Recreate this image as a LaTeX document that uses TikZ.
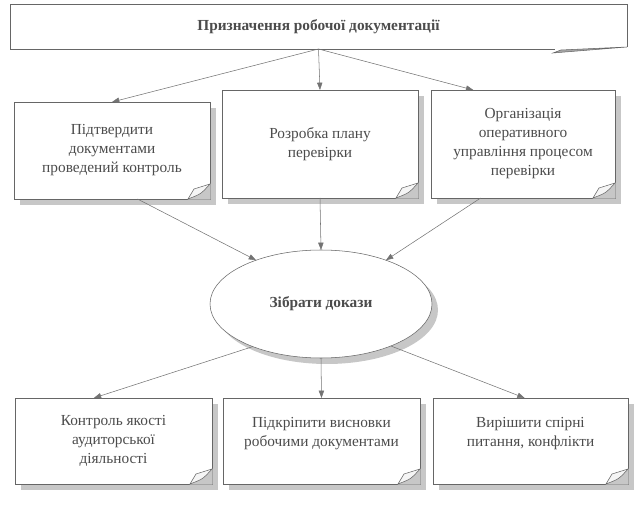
\documentclass[tikz,border=0pt]{standalone}
\usepackage{fontspec}
\setmainfont{Liberation Serif}
\usetikzlibrary{shapes,arrows.meta,positioning,calc,shadows}

\tikzset{
  plainbox/.style={draw=black!60, fill=white, inner sep=0pt, outer sep=0pt, align=center,
    text=black!70, font=\fontsize{11.5}{14.25}\selectfont},
  docbox/.style={plainbox, drop shadow={shadow xshift=4.5pt, shadow yshift=-4.5pt, fill=black!22, opacity=1}},
  arr/.style={draw=black!55, -{Triangle[length=5.5pt,width=4pt]}},
}

\begin{document}
\begin{tikzpicture}[x=0.75pt, y=-0.75pt]
\useasboundingbox (0,0) rectangle (643,513);

% top
\node[plainbox, minimum width=462.75pt, minimum height=33.75pt] (T) at (318.5,26.5)
  {\textbf{Призначення робочої документації}};

% middle row
\node[docbox, minimum width=147pt, minimum height=72.75pt] (L1) at (112,150.5)
  {Підтвердити\\документами\\проведений контроль};
\node[docbox, minimum width=147pt, minimum height=81pt] (M1) at (320,144)
  {Розробка плану\\перевірки};
\node[docbox, minimum width=138pt, minimum height=81pt] (R1) at (523,144)
  {Організація\\оперативного\\управління процесом\\перевірки};

% centre
\node[docbox, ellipse, minimum width=166.5pt, minimum height=81pt] (E) at (321,304)
  {\textbf{Зібрати докази}};

% bottom row
\node[docbox, minimum width=147.75pt, minimum height=64.5pt] (B1) at (113.5,441)
  {Контроль якості\\аудиторської\\діяльності};
\node[docbox, minimum width=147.75pt, minimum height=64.5pt] (B2) at (321.5,441)
  {Підкріпити висновки\\робочими документами\\\mbox{}};
\node[docbox, minimum width=146.25pt, minimum height=64.5pt] (B3) at (530.5,441)
  {Вирішити спірні\\питання, конфлікти\\\mbox{}};

% folded corners
\foreach \n in {L1,M1,R1,B1,B2,B3}{
  \begin{scope}[shift={(\n.south east)}]
    \fill[black!22] (-22.5,0.6) -- (0.6,0.6) -- (0.6,-15.5) -- cycle;
    \filldraw[fill=black!4, draw=black!60] (-22,0) -- (-16,-10) -- (0,-15) .. controls (-9,-5) .. cycle;
  \end{scope}
}
\begin{scope}[shift={(T.south east)}]
  \fill[white] (-72,-1.5) rectangle (1,1.5);
  \filldraw[fill=black!35, draw=black!60] (-74,4) -- (-66,1) -- (0,-2) -- (-62,3) -- cycle;
\end{scope}

% connectors
\draw[arr] (T.south) -- (L1.north);
\draw[arr] (T.south) -- (M1.north);
\draw[arr] (T.south) -- ($(R1.north west)!0.23!(R1.north east)$);
\draw[arr] ($(L1.south west)!0.63!(L1.south east)$) -- (E.146);
\draw[arr] (M1.south) -- (E.north);
\draw[arr] ($(R1.south west)!0.27!(R1.south east)$) -- (E.34);
\draw[arr] (E.212) -- ($(B1.north west)!0.4!(B1.north east)$);
\draw[arr] (E.south) -- (B2.north);
\draw[arr] (E.-31) -- ($(B3.north west)!0.47!(B3.north east)$);
\end{tikzpicture}
\end{document}
